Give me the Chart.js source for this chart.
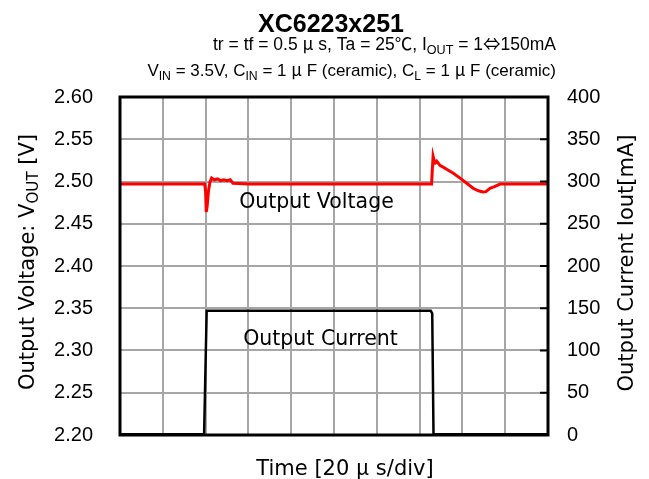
<!DOCTYPE html>
<html>
<head>
<meta charset="utf-8">
<script src="https://cdn.jsdelivr.net/npm/chart.js@4.4.1/dist/chart.umd.min.js"></script>
<style>
html, body { margin: 0; padding: 0; background: #fff; }
#wrap { width: 649px; height: 479px; }
</style>
</head>
<body>
<div id="wrap"><canvas id="transientChart"></canvas></div>
<script>
// time in us, 20 us per division
var voltTime = [0, 39.6, 40.0, 40.3, 40.7, 41.3, 42.0, 42.8, 44.0, 45.5, 47.0, 48.5, 50.0, 51.5, 52.8, 60,
	100, 145.6, 145.9, 146.3, 146.9, 147.3, 148.0, 149.5, 151.0, 153.0, 155.6, 158.9, 162.0, 165.0, 167.5,
	169.6, 171.0, 172.9, 175.0, 177.6, 180.0, 200];
var voltValues = [2.497, 2.497, 2.488, 2.464, 2.470, 2.488, 2.499, 2.504, 2.502, 2.503, 2.501, 2.502, 2.501, 2.502, 2.498, 2.497,
	2.497, 2.497, 2.512, 2.530, 2.524, 2.522, 2.524, 2.519, 2.517, 2.514, 2.510, 2.504, 2.498, 2.492, 2.489,
	2.4875, 2.488, 2.492, 2.494, 2.497, 2.497, 2.497];
var currTime = [0, 39.3, 40.5, 145.2, 145.9, 146.5, 200];
var currValues = [1, 1, 147, 147, 144, 1, 1];
var voltRange = [2.20, 2.60, 0.05];
var currRange = [0, 400, 50];
var timeRange = [0, 200, 20];

function pts(xs, ys) {
	return xs.map(function(t, i) { return {x: t, y: ys[i]}; });
}

// draws a row of text pieces, some as subscripts, on one shared baseline
function drawRich(ctx, segs, x, y, align, size, family) {
	var w = 0;
	function setFont(s) {
		ctx.font = (s.bold ? 'bold ' : '') + (s.sub ? size * 0.72 : size) + 'px ' + (s.family || family);
	}
	segs.forEach(function(s) {
		setFont(s);
		s.w = ctx.measureText(s.t).width;
		w += s.w;
	});
	var sx = align === 'right' ? x - w : (align === 'center' ? x - w / 2 : x);
	var base = y + size * 0.36;
	ctx.textAlign = 'left';
	ctx.textBaseline = 'alphabetic';
	segs.forEach(function(s) {
		setFont(s);
		ctx.fillText(s.t, sx, base + (s.sub ? size * 0.2 : 0));
		sx += s.w;
	});
}

var FONT = '"Liberation Sans", "Noto Sans CJK JP", sans-serif';
var JFONT = '"DejaVu Sans", "Noto Sans CJK JP", sans-serif';
var CJK = '"Noto Sans CJK JP", sans-serif';

var frame = {
	id: 'frame',
	afterDraw: function(chart) {
		var ctx = chart.ctx, a = chart.chartArea;
		var sx = chart.scales.x, sy = chart.scales.y, sy1 = chart.scales.y1;
		ctx.save();
		ctx.fillStyle = '#000';
		ctx.strokeStyle = '#000';
		// inner tick marks on right border
		ctx.lineWidth = 2;
		for (var v = currRange[0]; v <= currRange[1]; v += currRange[2]) {
			var py = sy1.getPixelForValue(v);
			ctx.beginPath();
			ctx.moveTo(a.right - 8, py);
			ctx.lineTo(a.right, py);
			ctx.stroke();
		}
		ctx.lineWidth = 3;
		ctx.strokeRect(a.left, a.top, a.right - a.left, a.bottom - a.top);

		// titles
		drawRich(ctx, [{t: 'XC6223x251', bold: true}], 331, 23, 'center', 25, FONT);
		drawRich(ctx, [{t: 'tr = tf = 0.5 '}, {t: 'μ', family: CJK}, {t: ' s, Ta = 25'}, {t: '℃', family: CJK}, {t: ', I'},
			{t: 'OUT', sub: true}, {t: ' = 1'}, {t: '⇔', family: CJK}, {t: '150mA'}], 556, 44, 'right', 17.5, FONT);
		drawRich(ctx, [{t: 'V'}, {t: 'IN', sub: true}, {t: ' = 3.5V, C'}, {t: 'IN', sub: true},
			{t: ' = 1 '}, {t: 'μ', family: CJK}, {t: ' F (ceramic), C'}, {t: 'L', sub: true},
			{t: ' = 1 '}, {t: 'μ', family: CJK}, {t: ' F (ceramic)'}], 556, 70, 'right', 17, FONT);

		// series labels inside plot
		drawRich(ctx, [{t: 'Output Voltage'}], sx.getPixelForValue(91.8), sy.getPixelForValue(2.4775), 'center', 20.5, JFONT);
		drawRich(ctx, [{t: 'Output Current'}], sx.getPixelForValue(93.7), sy1.getPixelForValue(115), 'center', 20.5, JFONT);

		// axis titles
		drawRich(ctx, [{t: 'Time [20 '}, {t: 'μ', family: CJK}, {t: ' s/div]'}], 345, 467, 'center', 21, JFONT);
		ctx.translate(26, 262);
		ctx.rotate(-Math.PI / 2);
		drawRich(ctx, [{t: 'Output Voltage: V'}, {t: 'OUT', sub: true}, {t: ' [V]'}], 0, 0, 'center', 21, JFONT);
		ctx.rotate(Math.PI / 2);
		ctx.translate(599, 1);
		ctx.rotate(-Math.PI / 2);
		drawRich(ctx, [{t: 'Output Current Iout[mA]'}], 0, 0, 'center', 21, JFONT);
		ctx.restore();
	}
};

var config = {
	type: 'line',
	data: {
		datasets: [{
			label: 'Output Voltage',
			data: pts(voltTime, voltValues),
			yAxisID: 'y',
			borderColor: '#ff0000',
			borderWidth: 3,
			pointRadius: 0,
			tension: 0
		}, {
			label: 'Output Current',
			data: pts(currTime, currValues),
			yAxisID: 'y1',
			borderColor: '#000000',
			borderWidth: 2.5,
			pointRadius: 0,
			tension: 0
		}]
	},
	options: {
		responsive: true,
		maintainAspectRatio: false,
		animation: false,
		layout: { padding: { top: 97, left: 0, right: 0, bottom: 0 } },
		plugins: { legend: { display: false }, tooltip: { enabled: false } },
		scales: {
			x: {
				type: 'linear',
				min: timeRange[0],
				max: timeRange[1],
				ticks: { display: false, stepSize: timeRange[2] },
				grid: { color: '#a6a6a6', lineWidth: 2, drawTicks: false },
				border: { display: false },
				afterFit: function(s) { s.height = 44; }
			},
			y: {
				position: 'left',
				min: voltRange[0],
				max: voltRange[1],
				ticks: {
					stepSize: voltRange[2],
					padding: 27,
					color: '#000',
					font: { family: FONT, size: 20 },
					callback: function(v) { return v.toFixed(2); }
				},
				grid: { color: '#a6a6a6', lineWidth: 2, drawTicks: false },
				border: { display: false },
				afterFit: function(s) { s.width = 120; }
			},
			y1: {
				position: 'right',
				min: currRange[0],
				max: currRange[1],
				ticks: {
					stepSize: currRange[2],
					padding: 19,
					color: '#000',
					font: { family: FONT, size: 20 }
				},
				grid: { display: false, drawTicks: false },
				border: { display: false },
				afterFit: function(s) { s.width = 101; }
			}
		}
	},
	plugins: [frame]
};

window.onload = function() {
	var ctx = document.getElementById('transientChart').getContext('2d');
	window.myChart = new Chart(ctx, config);
};
</script>
</body>
</html>
